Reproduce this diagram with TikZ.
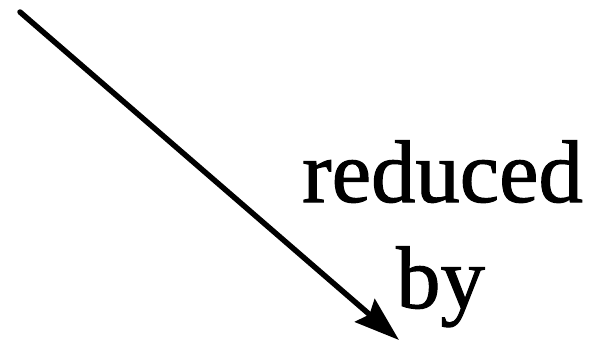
\documentclass[tikz,border=0pt]{standalone}
\usepackage{fontspec}
\setmainfont{Liberation Serif}
\newfontfamily\scanfont[FakeBold=1.2]{Liberation Serif}
\usetikzlibrary{arrows.meta}
\tikzset{
  % the long pointing arrow
  pointer/.style={-{Stealth[length=45bp,width=30bp,inset=6bp]}, line width=5.5bp, line cap=round},
  % large serif words
  bigword/.style={font=\scanfont\fontsize{89}{89}\selectfont, inner sep=0pt, anchor=base west},
}

\begin{document}
\begin{tikzpicture}[x=1bp, y=-1bp]
    \useasboundingbox (0,0) rectangle (593,341);
    % words
    \node[bigword] (reduced) at (302,202) {reduced};
    \node[bigword] (by) at (396,308) {by};
    % arrow
    \coordinate (start) at (20,12);
    \coordinate (tip) at (399,340);
    \draw[pointer] (start) -- (tip);
\end{tikzpicture}
\end{document}
